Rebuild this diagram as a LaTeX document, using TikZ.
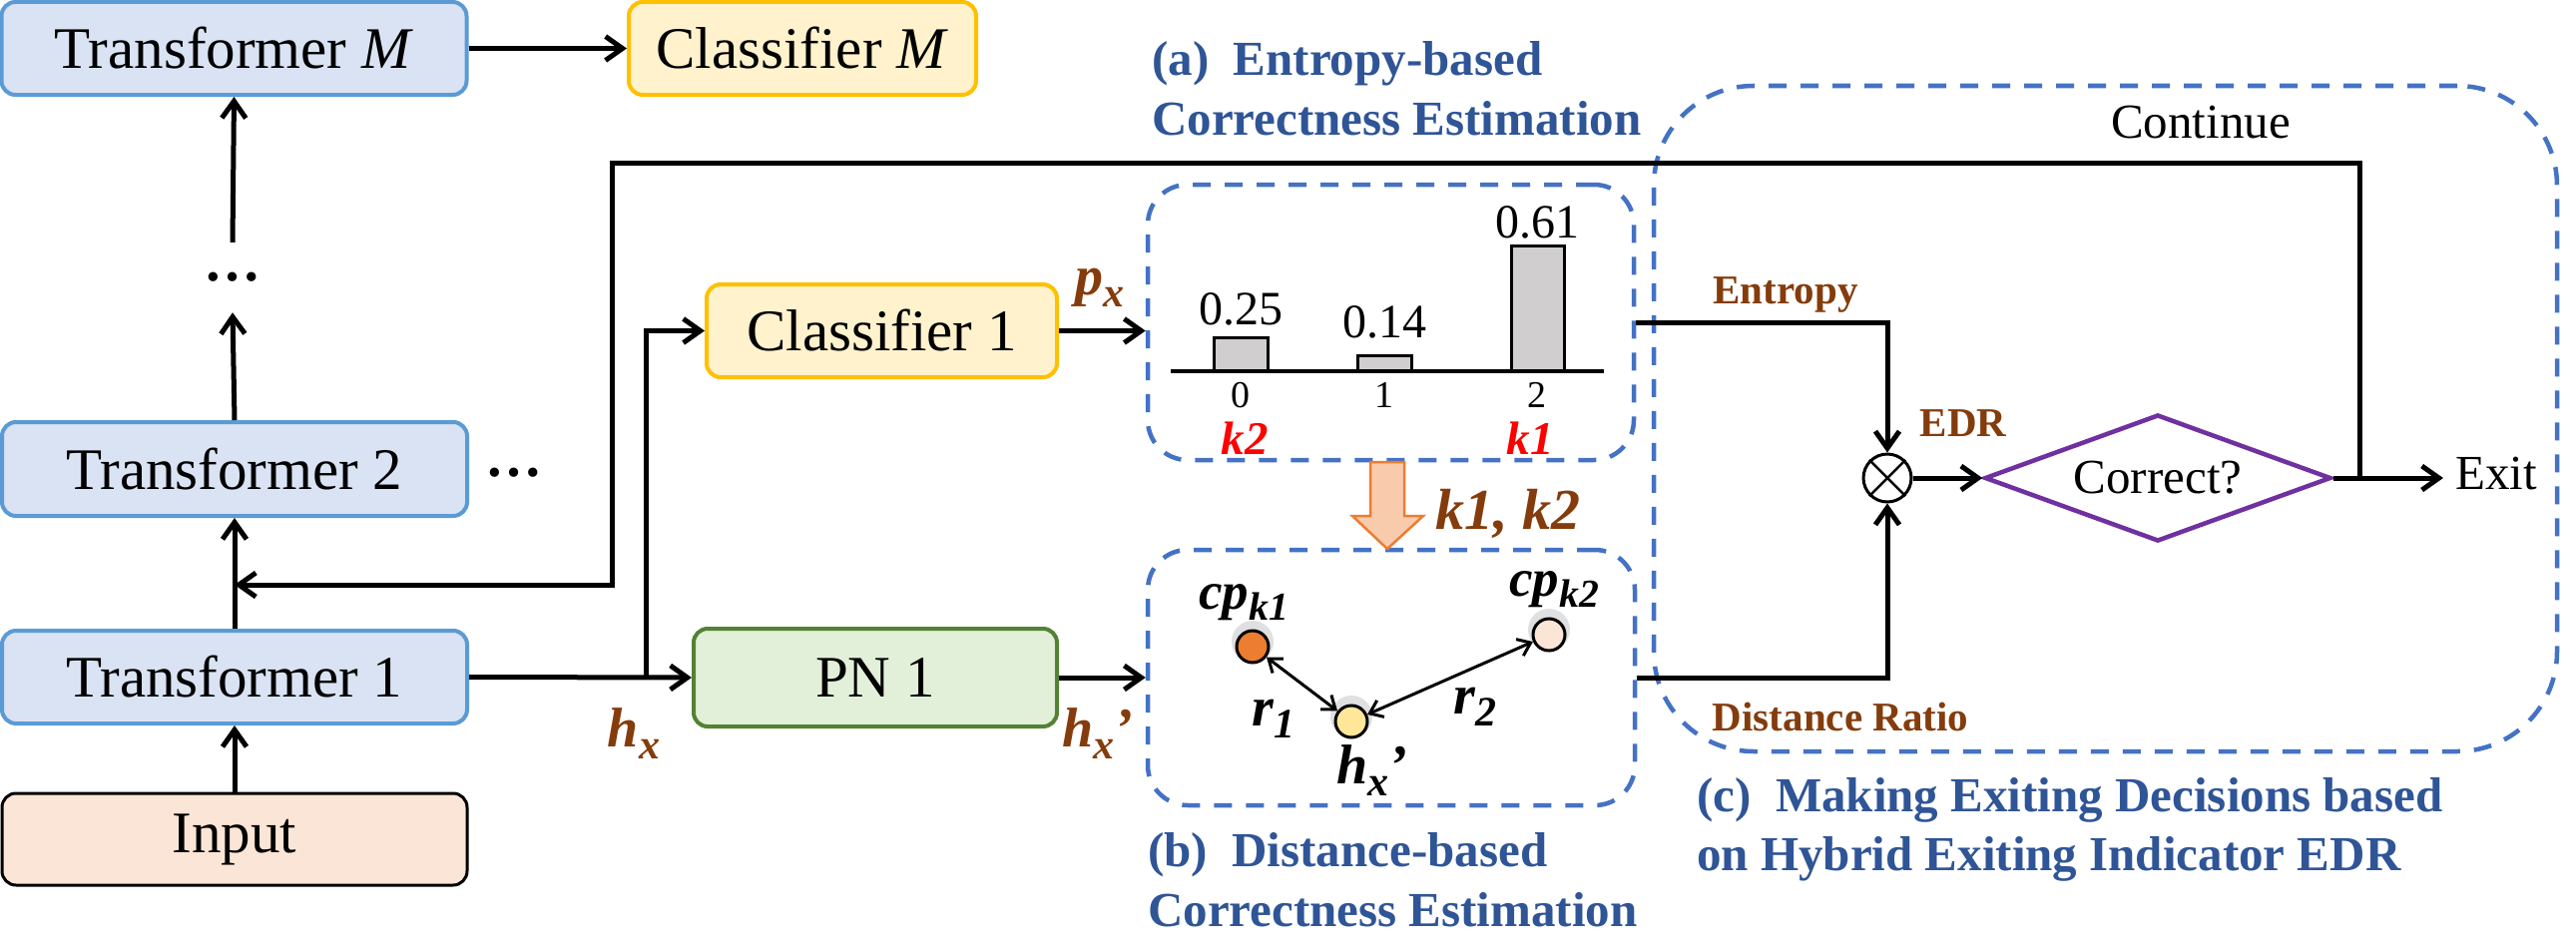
\documentclass[tikz,border=0pt]{standalone}
\usepackage{fontspec}
\setmainfont{Liberation Serif}
\usepackage{graphicx}
\usetikzlibrary{arrows.meta,shapes.geometric,calc}

\definecolor{tfill}{HTML}{DAE3F3}
\definecolor{tdraw}{HTML}{5B9BD5}
\definecolor{cfill}{HTML}{FFF2CC}
\definecolor{cdraw}{HTML}{FFC000}
\definecolor{pfill}{HTML}{E2F0D9}
\definecolor{pdraw}{HTML}{548235}
\definecolor{ifill}{HTML}{FBE5D6}
\definecolor{dblue}{HTML}{4472C4}
\definecolor{capblue}{HTML}{2F5597}
\definecolor{lbrown}{HTML}{843C0C}
\definecolor{purp}{HTML}{7030A0}
\definecolor{oarrf}{HTML}{F8CBAD}
\definecolor{oarrd}{HTML}{ED7D31}
\definecolor{barf}{HTML}{D0CECE}
\definecolor{cpone}{HTML}{ED7D31}
\definecolor{hxf}{HTML}{FFE699}

\newcommand\fsz[1]{\fontsize{#1}{#1}\selectfont}
\newcommand\lsub[1]{\raisebox{-0.22em}{\scalebox{0.75}{#1}}}

\tikzset{
  mbox/.style={draw, rounded corners=14pt, line width=4pt, minimum width=466pt,
    minimum height=93pt, inner sep=0pt, font=\fsz{59}},
  tbox/.style={mbox, fill=tfill, draw=tdraw},
  cbox/.style={mbox, fill=cfill, draw=cdraw},
  arr/.style={line width=5pt, -{Straight Barb[length=17pt,width=24pt,line width=5pt]}},
  darr/.style={line width=3pt,
    {Straight Barb[length=12pt,width=18pt,line width=3pt]}-{Straight Barb[length=12pt,width=18pt,line width=3pt]}},
  dbox/.style={draw=dblue, line width=4.5pt, dash pattern=on 18pt off 14pt,
    rounded corners=40pt, inner sep=0pt},
  captxt/.style={anchor=base west, inner sep=0pt, text=capblue, font=\fsz{49}\bfseries},
  blab/.style={anchor=base, inner sep=0pt, text=lbrown, font=\fsz{41}\bfseries},
  rlab/.style={anchor=base, inner sep=0pt, font=\fsz{49}},
  ilab/.style={anchor=base, inner sep=0pt, font=\fsz{56}\bfseries\itshape},
  ptc/.style={circle, draw, line width=3pt, minimum size=32pt, inner sep=0pt},
  glowf/.style={fill=black, opacity=0.12},
}

\begin{document}
\begin{tikzpicture}[x=1pt,y=-1pt]
\fill[white] (0,0) rectangle (2581,950);
\useasboundingbox (0,0) rectangle (2581,950);

% dashed regions
\node[dbox, minimum width=487pt, minimum height=276pt] (ba) at (1393.5,323) {};
\node[dbox, minimum width=488pt, minimum height=256pt] (bb) at (1394,679) {};
\node[dbox, rounded corners=100pt, minimum width=905pt, minimum height=667pt] (bc) at (2109.5,419.5) {};

% left column
\node[tbox] (tm) at (234.5,48.5) {Transformer \textit{M}};
\node[cbox, minimum width=348pt] (cm) at (804,48.5) {Classifier \textit{M}};
\node[tbox, minimum height=94pt] (t2) at (235,470) {Transformer 2};
\node[tbox] (t1) at (235,678.5) {Transformer 1};
\node[mbox, fill=ifill, draw=black, line width=3pt, minimum height=92pt] (in) at (235,841) {Input};
\node[inner sep=0pt, minimum height=70pt, font=\fsz{57}\bfseries] (dv) at (233,278) {…};
\node[anchor=base, inner sep=0pt, font=\fsz{57}\bfseries] (dh) at (515,477) {…};

\node[cbox, minimum width=351pt] (c1) at (883.5,331.5) {Classifier 1};
\node[mbox, fill=pfill, draw=pdraw, minimum width=364pt, minimum height=98pt] (pn) at (877,679) {PN 1};

\draw[arr] (tm.east) -- (cm.west);
\draw[arr] (in.north) -- (t1.south);
\draw[arr] (t1.north) -- (t2.south);
\draw[arr] (t2.north) -- (dv.south);
\draw[arr] (dv.north) -- (tm.south);
\draw[arr] (t1.east) -- (pn.west);
\coordinate (br) at (647,678.5);
\draw[arr] (br) |- (c1.west);
\draw[arr] (c1.east) -- (c1.east -| ba.west);
\draw[arr] (pn.east) -- (pn.east -| bb.west);

\node[ilab, text=lbrown] (hx) at (635,748) {h\lsub{x}};
\node[ilab, text=lbrown] (px) at (1102,295) {p\lsub{x}};
\node[ilab, text=lbrown] (hxp) at (1100,748) {h\lsub{x}’};

% bar chart
\draw[line width=3pt, fill=barf] (1216,338) rectangle (1270,372);
\draw[line width=3pt, fill=barf] (1360,356) rectangle (1414,372);
\draw[line width=3pt, fill=barf] (1514,246) rectangle (1567,372);
\draw[line width=3.5pt] (1173,372) -- (1607,372);
\node[rlab, font=\fsz{48}] (v0) at (1243,325) {0.25};
\node[rlab, font=\fsz{48}] (v1) at (1387,338) {0.14};
\node[rlab, font=\fsz{48}] (v2) at (1540,238) {0.61};
\node[rlab, font=\fsz{38}] (x0) at (1243,408) {0};
\node[rlab, font=\fsz{38}] (x1) at (1387,408) {1};
\node[rlab, font=\fsz{38}] (x2) at (1540,408) {2};
\node[ilab, text=red, font=\fsz{47}\bfseries\itshape] (rk2) at (1247,455) {k2};
\node[ilab, text=red, font=\fsz{47}\bfseries\itshape] (rk1) at (1533,455) {k1};

% orange arrow
\draw[draw=oarrd, fill=oarrf, line width=2.5pt, line join=miter]
  (1373,463) -- (1407,463) -- (1407,517) -- (1426,517) -- (1390,550)
  -- (1355,517) -- (1373,517) -- cycle;
\node[ilab, text=lbrown, font=\fsz{58}\bfseries\itshape] (kk) at (1511,530) {k1, k2};

% distance box
\fill[glowf] (1255,643) circle (21pt);
\fill[glowf] (1354,718) circle (21pt);
\fill[glowf] (1552,631) circle (21pt);
\node[ptc, fill=cpone] (p1) at (1255,648) {};
\node[ptc, fill=hxf] (hc) at (1354,723) {};
\node[ptc, fill=ifill] (p2) at (1552,636) {};
\draw[darr] (p1) -- (hc);
\draw[darr] (hc) -- (p2);
\node[ilab, font=\fsz{53}\bfseries\itshape] (lk1) at (1246,610) {cp\lsub{k1}};
\node[ilab, font=\fsz{53}\bfseries\itshape] (lk2) at (1557,597) {cp\lsub{k2}};
\node[ilab] (lhx) at (1375,785) {h\lsub{x}’};
\node[ilab] (lr1) at (1276,727) {r\lsub{1}};
\node[ilab] (lr2) at (1478,715) {r\lsub{2}};

% decision part
\node[circle, draw, line width=3pt, minimum size=48pt, inner sep=0pt, fill=white] (mul) at (1891,479) {};
\draw[line width=2.5pt] (mul.45) -- (mul.225) (mul.135) -- (mul.315);
\node[diamond, draw=purp, line width=4.5pt, aspect=2.73, minimum width=347pt,
  minimum height=127pt, inner sep=0pt, font=\fsz{49}] (dia) at (2162,479) {Correct?};
\node[anchor=base, inner ysep=0pt, inner xsep=12pt, font=\fsz{49}] (exit) at (2501,490) {Exit};

\draw[arr] (ba.east) -| (mul.north);
\draw[arr] (bb.east) -| (mul.south);
\draw[arr] (mul.east) -- (dia.west);
\draw[arr] (dia.east) -- (dia.east -| exit.west);

\coordinate (cr) at (2364,479);
\coordinate (ctr) at (2364,163);
\coordinate (ctl) at (613,163);
\coordinate (cbl) at (613,586);
\draw[arr] (cr) -- (ctr) -- (ctl) -- (cbl) -- (cbl -| t1.north);

\node[blab] (len) at (1789,304) {Entropy};
\node[blab] (ledr) at (1967,437) {EDR};
\node[blab] (ldr) at (1844,732) {Distance Ratio};
\node[rlab] (lcont) at (2205,138) {Continue};

% captions
\node[captxt] (ca1) at (1154,76) {(a)\hspace{0.5em}Entropy-based};
\node[captxt] (ca2) at (1154,135) {Correctness Estimation};
\node[captxt] (cb1) at (1150,868) {(b)\hspace{0.5em}Distance-based};
\node[captxt] (cb2) at (1150,928) {Correctness Estimation};
\node[captxt] (cc1) at (1700,813) {(c)\hspace{0.5em}Making Exiting Decisions based};
\node[captxt] (cc2) at (1700,872) {on Hybrid Exiting Indicator EDR};
\end{tikzpicture}
\end{document}
